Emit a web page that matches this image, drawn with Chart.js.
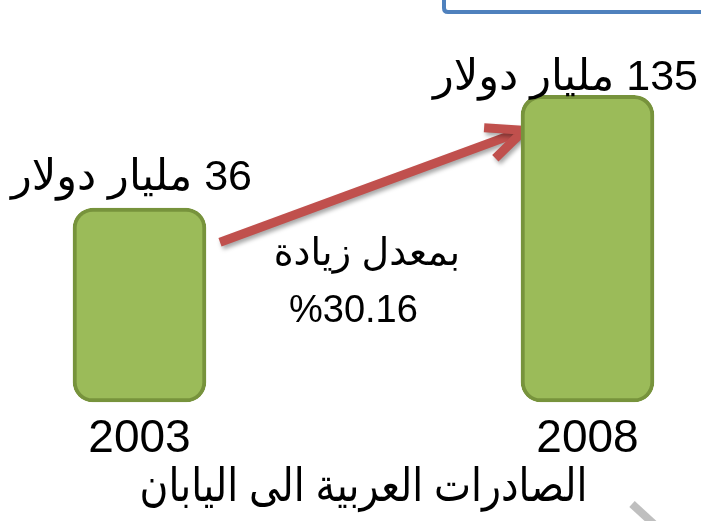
<!DOCTYPE html>
<html>
<head>
<meta charset="utf-8">
<script src="https://cdn.jsdelivr.net/npm/chart.js@4.4.1/dist/chart.umd.min.js"></script>
<style>
  html, body { margin: 0; padding: 0; background: #fff; }
</style>
</head>
<body>
<canvas id="chart" width="701" height="521"></canvas>
<script>
// data
const years = ['2003', '2008']
const exportValues = [36, 135] // billion dollars
const unitLabel = 'مليار دولار'
const growthLines = ['بمعدل زيادة', '%30.16']
const chartTitle = 'الصادرات العربية الى اليابان'

const fontFamily = '"Liberation Sans", Arial, "DejaVu Sans", sans-serif'
const barFill = '#9bbb59'
const barEdge = '#77933c'
const arrowColor = '#c0504d'

const annotations = {
    id: 'annotations',
    beforeDraw(chart) {
        const { ctx } = chart
        ctx.save()
        // piece of a box cut off at the top edge
        ctx.strokeStyle = '#4f81bd'
        ctx.lineWidth = 4
        ctx.beginPath()
        ctx.moveTo(444, -10)
        ctx.lineTo(444, 8)
        ctx.quadraticCurveTo(444, 12, 448, 12)
        ctx.lineTo(710, 12)
        ctx.stroke()
        // stray connector at bottom right
        ctx.strokeStyle = '#bfbfbf'
        ctx.lineWidth = 8
        ctx.beginPath()
        ctx.moveTo(632, 504)
        ctx.lineTo(656, 526)
        ctx.stroke()
        ctx.restore()
    },
    beforeDatasetsDraw(chart) {
        // growth arrow, tip tucked under the second bar's edge
        const { ctx } = chart
        const bars = chart.getDatasetMeta(0).data
        const half = 66.5
        const b1 = bars[0], b2 = bars[1]
        const x1 = b1.x + half + 14, y1 = b1.y + 34
        const x2 = b2.x - half + 3, y2 = b2.y + 35
        const ang = Math.atan2(y2 - y1, x2 - x1)
        const headLen = 40, headAng = 24 * Math.PI / 180
        ctx.save()
        ctx.strokeStyle = arrowColor
        ctx.lineWidth = 9
        ctx.lineJoin = 'miter'
        ctx.shadowColor = 'rgba(0,0,0,0.35)'
        ctx.shadowBlur = 4
        ctx.shadowOffsetX = 2
        ctx.shadowOffsetY = 3
        ctx.beginPath()
        ctx.moveTo(x1, y1)
        ctx.lineTo(x2 - 4 * Math.cos(ang), y2 - 4 * Math.sin(ang))
        ctx.stroke()
        ctx.beginPath()
        ctx.moveTo(x2 - headLen * Math.cos(ang - headAng), y2 - headLen * Math.sin(ang - headAng))
        ctx.lineTo(x2, y2)
        ctx.lineTo(x2 - headLen * Math.cos(ang + headAng), y2 - headLen * Math.sin(ang + headAng))
        ctx.stroke()
        ctx.restore()
    },
    afterDatasetsDraw(chart) {
        const { ctx } = chart
        const bars = chart.getDatasetMeta(0).data
        const half = 66.5
        ctx.save()
        // value labels
        ctx.fillStyle = '#000'
        ctx.font = '43px ' + fontFamily
        ctx.direction = 'rtl'
        ctx.textAlign = 'right'
        ctx.textBaseline = 'alphabetic'
        const offsets = [-18, -5]
        bars.forEach((bar, i) => {
            ctx.fillText(exportValues[i] + ' ' + unitLabel, bar.x + half + 46 - (i ? 2 : 0), bar.y + offsets[i])
        })

        // growth text
        ctx.font = '38px ' + fontFamily
        ctx.fillText(growthLines[0], 460, 265)
        ctx.direction = 'ltr'
        ctx.textAlign = 'left'
        ctx.fillText(growthLines[1], 289, 322)
        ctx.restore()
    }
}

new Chart(document.getElementById('chart'), {
    type: 'bar',
    data: {
        labels: years,
        datasets: [{
            data: exportValues,
            base: -134,
            backgroundColor: barFill,
            borderColor: barEdge,
            borderWidth: 4,
            borderRadius: 20,
            borderSkipped: false,
            barThickness: 133,
            clip: false
        }]
    },
    options: {
        responsive: false,
        animation: false,
        events: [],
        layout: {
            padding: { top: 60, left: 139.5, right: 113.5, bottom: 5.4 }
        },
        scales: {
            x: {
                offset: false,
                grid: { display: false, drawTicks: false },
                border: { display: false },
                ticks: {
                    color: '#000',
                    padding: 10,
                    font: { family: fontFamily, size: 46 }
                }
            },
            y: {
                display: false,
                min: -134,
                max: 166
            }
        },
        plugins: {
            legend: { display: false },
            tooltip: { enabled: false },
            title: {
                display: true,
                position: 'bottom',
                text: chartTitle,
                color: '#000',
                padding: { top: -16.8, bottom: 0 },
                font: { family: fontFamily, size: 46, weight: 'normal' }
            }
        }
    },
    plugins: [annotations]
})
</script>
</body>
</html>
